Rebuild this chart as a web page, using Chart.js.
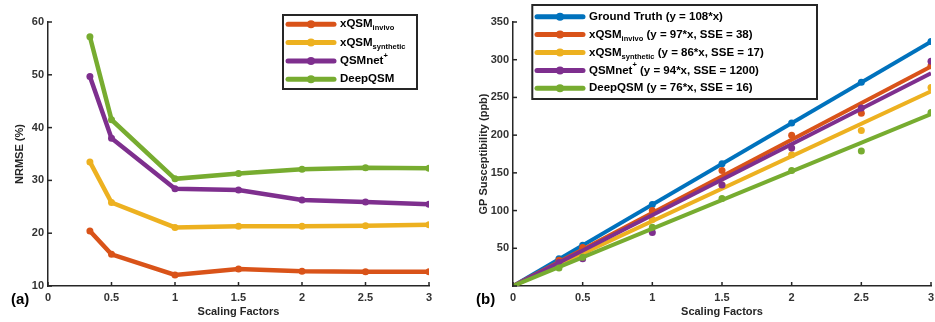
<!DOCTYPE html>
<html>
<head>
<meta charset="utf-8">
<script src="https://cdn.jsdelivr.net/npm/chart.js@4.4.1/dist/chart.umd.min.js"></script>
<style>
body { margin: 0; background: #fff; }
#wrapA { position: absolute; left: 0; top: 0; width: 465px; height: 322px; }
#wrapB { position: absolute; left: 465px; top: 0; width: 470px; height: 322px; }
</style>
</head>
<body>
<div id="wrapA"><canvas id="chartA" width="465" height="322"></canvas></div>
<div id="wrapB"><canvas id="chartB" width="470" height="322"></canvas></div>
<script>
var scalingFactors = [0.33, 0.5, 1, 1.5, 2, 2.5, 3];

// (a) NRMSE (%)
var nrmseInvivo    = [20.4, 16.0, 12.1, 13.2, 12.8, 12.7, 12.7];
var nrmseSynthetic = [33.5, 25.8, 21.1, 21.3, 21.3, 21.4, 21.6];
var nrmseQsmnet    = [49.7, 38.0, 28.4, 28.2, 26.3, 25.9, 25.5];
var nrmseDeepqsm   = [57.2, 41.5, 30.3, 31.3, 32.1, 32.4, 32.3];

// (b) GP susceptibility (ppb)
var gpTruth     = [36, 54, 108, 162, 216, 270, 324];
var gpInvivo    = [34, 51, 100, 153, 200, 229, 292];
var gpSynthetic = [29, 44, 88, 134, 174, 206, 263];
var gpQsmnet    = [31, 36, 71, 134, 183, 236, 298];
var gpDeepqsm   = [24, 38, 78, 116, 153, 179, 230];
var fitSlopes   = [108, 97, 86, 94, 76];

var legendA = [
  [{t: 'xQSM'}, {t: 'invivo', sub: true}],
  [{t: 'xQSM'}, {t: 'synthetic', sub: true}],
  [{t: 'QSMnet'}, {t: '+', sup: true}],
  [{t: 'DeepQSM'}]
];
var legendB = [
  [{t: 'Ground Truth (y = 108*x)'}],
  [{t: 'xQSM'}, {t: 'invivo', sub: true}, {t: ' (y = 97*x, SSE = 38)'}],
  [{t: 'xQSM'}, {t: 'synthetic', sub: true}, {t: ' (y = 86*x, SSE = 17)'}],
  [{t: 'QSMnet'}, {t: '+', sup: true}, {t: ' (y = 94*x, SSE = 1200)'}],
  [{t: 'DeepQSM (y = 76*x, SSE = 16)'}]
];

var BLUE = '#0072BD', ORANGE = '#D95319', YELLOW = '#EDB120', PURPLE = '#7E2F8E', GREEN = '#77AC30';
var INK = '#262626';
var FONT = '"Liberation Sans", Arial, sans-serif';

function pts(ys) {
  return scalingFactors.map(function(x, i) { return {x: x, y: ys[i]}; });
}

// little ticks pointing into the plot, like matlab
var inwardTicks = {
  id: 'inwardTicks',
  afterDatasetsDraw: function(chart) {
    var ctx = chart.ctx, a = chart.chartArea;
    var xs = chart.scales.x, ys = chart.scales.y;
    ctx.save();
    ctx.strokeStyle = INK;
    ctx.lineWidth = 1.5;
    xs.ticks.forEach(function(t) {
      var px = xs.getPixelForValue(t.value);
      ctx.beginPath(); ctx.moveTo(px, a.bottom); ctx.lineTo(px, a.bottom - 4); ctx.stroke();
    });
    ys.ticks.forEach(function(t) {
      var py = ys.getPixelForValue(t.value);
      ctx.beginPath(); ctx.moveTo(a.left, py); ctx.lineTo(a.left + 4, py); ctx.stroke();
    });
    ctx.restore();
  }
};

function drawSegs(ctx, segs, x, y) {
  segs.forEach(function(s) {
    var dy = 0;
    if (s.sub) { ctx.font = 'bold 7.5px ' + FONT; dy = 4; }
    else if (s.sup) { ctx.font = 'bold 7.5px ' + FONT; dy = -5; }
    else ctx.font = 'bold 11.5px ' + FONT;
    ctx.fillText(s.t, x, y + dy);
    x += ctx.measureText(s.t).width;
  });
}

var boxLegend = {
  id: 'boxLegend',
  afterDraw: function(chart, args, o) {
    var ctx = chart.ctx;
    ctx.save();
    ctx.fillStyle = '#fff';
    ctx.fillRect(o.box[0], o.box[1], o.box[2], o.box[3]);
    ctx.strokeStyle = INK;
    ctx.lineWidth = 2;
    ctx.strokeRect(o.box[0], o.box[1], o.box[2], o.box[3]);
    ctx.textBaseline = 'middle';
    o.items.forEach(function(segs, i) {
      var y = o.y0 + i * o.step;
      ctx.strokeStyle = o.colors[i];
      ctx.lineWidth = 5;
      ctx.lineCap = 'round';
      ctx.beginPath(); ctx.moveTo(o.x0, y); ctx.lineTo(o.x1, y); ctx.stroke();
      ctx.fillStyle = o.colors[i];
      ctx.beginPath(); ctx.arc((o.x0 + o.x1) / 2, y, 4, 0, Math.PI * 2); ctx.fill();
      ctx.fillStyle = '#000';
      drawSegs(ctx, segs, o.tx, y);
    });
    // panel letter
    ctx.font = 'bold 15px ' + FONT;
    ctx.fillStyle = '#000';
    ctx.textBaseline = 'alphabetic';
    ctx.fillText(o.panel, o.px, o.py);
    ctx.restore();
  }
};

function axes(yMin, yMax, yStep, yTitle, hideZero, titlePad) {
  var tickFont = {family: FONT, size: 11, weight: 'bold'};
  return {
    x: {
      type: 'linear', min: 0, max: 3,
      border: {color: INK, width: 1.5},
      grid: {drawOnChartArea: false, drawTicks: false},
      ticks: {stepSize: 0.5, padding: 5, color: '#333', font: tickFont, maxRotation: 0,
              callback: function(v) { return String(v); }},
      title: {display: true, text: 'Scaling Factors', color: INK, font: tickFont, padding: {top: 0, bottom: 3}},
      afterFit: function(s) { s.height = 36; s.paddingLeft = 0; s.paddingRight = 0; }
    },
    y: {
      min: yMin, max: yMax,
      border: {color: INK, width: 1.5},
      grid: {drawOnChartArea: false, drawTicks: false},
      ticks: {stepSize: yStep, padding: 4, color: '#333', font: tickFont,
              callback: function(v) { return (hideZero && v === 0) ? '' : v; }},
      title: {display: true, text: yTitle, color: INK, font: tickFont, padding: {top: titlePad, bottom: 0}},
      afterFit: function(s) { s.width = 48; s.paddingTop = 0; s.paddingBottom = 0; }
    }
  };
}

function seriesLine(label, ys, color, order) {
  return {label: label, data: pts(ys), showLine: true, borderColor: color, backgroundColor: color,
          borderWidth: 4.5, pointRadius: 3.5, pointBorderWidth: 0, order: order};
}

new Chart(document.getElementById('chartA'), {
  type: 'scatter',
  data: {
    datasets: [
      seriesLine('xQSM invivo', nrmseInvivo, ORANGE, 4),
      seriesLine('xQSM synthetic', nrmseSynthetic, YELLOW, 3),
      seriesLine('QSMnet+', nrmseQsmnet, PURPLE, 2),
      seriesLine('DeepQSM', nrmseDeepqsm, GREEN, 1)
    ]
  },
  options: {
    responsive: false, animation: false,
    layout: {padding: {left: 0, top: 22, right: 36, bottom: 0}},
    scales: axes(10, 60, 10, 'NRMSE (%)', false, 13.4),
    plugins: {
      legend: {display: false}, tooltip: {enabled: false},
      boxLegend: {box: [283, 15, 134, 74], items: legendA, colors: [ORANGE, YELLOW, PURPLE, GREEN],
                  y0: 24.3, step: 18.3, x0: 288, x1: 334, tx: 340, panel: '(a)', px: 11, py: 304}
    }
  },
  plugins: [inwardTicks, boxLegend]
});

var gpSets = [gpTruth, gpInvivo, gpSynthetic, gpQsmnet, gpDeepqsm];
var gpColors = [BLUE, ORANGE, YELLOW, PURPLE, GREEN];
var gpDatasets = [];
gpSets.forEach(function(ys, i) {
  var ord = 10 - 2 * i;
  gpDatasets.push({data: pts(ys), showLine: false, backgroundColor: gpColors[i], borderColor: gpColors[i],
                   pointRadius: 3.5, pointBorderWidth: 0, order: ord});
  gpDatasets.push({data: [{x: 0, y: 0}, {x: 3, y: fitSlopes[i] * 3}], showLine: true,
                   borderColor: gpColors[i], borderWidth: 4, pointRadius: 0, order: ord - 1});
});

new Chart(document.getElementById('chartB'), {
  type: 'scatter',
  data: {datasets: gpDatasets},
  options: {
    responsive: false, animation: false,
    layout: {padding: {left: 0, top: 22, right: 4, bottom: 0}},
    scales: axes(0, 350, 50, 'GP Susceptibility (ppb)', true, 12.4),
    plugins: {
      legend: {display: false}, tooltip: {enabled: false},
      boxLegend: {box: [67.3, 5, 284.7, 94], items: legendB, colors: gpColors,
                  y0: 16.7, step: 17.9, x0: 72, x1: 118, tx: 124, panel: '(b)', px: 11, py: 304}
    }
  },
  plugins: [inwardTicks, boxLegend]
});
</script>
</body>
</html>
